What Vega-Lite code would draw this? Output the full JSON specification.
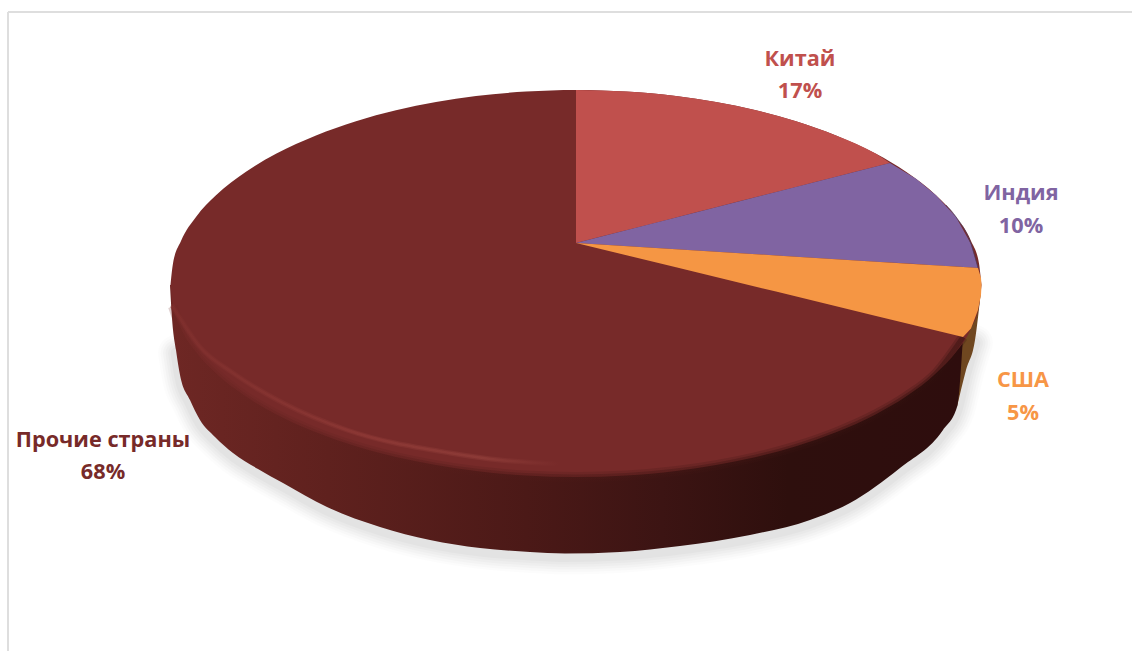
{
"$schema":"https://vega.github.io/schema/vega-lite/v6.json",
"width":1132,"height":651,"padding":0,"autosize":{"type":"none"},"background":"white",
"config":{"view":{"stroke":null}},
"datasets":{
"face":[{"x":-405.5,"y":-42,"y2":-42},{"x":-403,"y":-20.4,"y2":-63.3},{"x":-395,"y":2.1,"y2":-85.4},{"x":-380,"y":26.1,"y2":-109},{"x":-360,"y":47.7,"y2":-130.3},{"x":-330,"y":71.3,"y2":-153.6},{"x":-300,"y":89.2,"y2":-171.2},{"x":-260,"y":107.6,"y2":-189.3},{"x":-220,"y":121.8,"y2":-203.3},{"x":-180,"y":132.7,"y2":-214},{"x":-140,"y":140.9,"y2":-222.1},{"x":-100,"y":147,"y2":-228},{"x":-50,"y":151.4,"y2":-232.5},{"x":0,"y":153,"y2":-234},{"x":50,"y":151.4,"y2":-232.5},{"x":100,"y":147,"y2":-228},{"x":140,"y":140.9,"y2":-222.1},{"x":180,"y":132.7,"y2":-214},{"x":220,"y":121.8,"y2":-203.3},{"x":260,"y":107.6,"y2":-189.3},{"x":300,"y":89.2,"y2":-171.2},{"x":330,"y":71.3,"y2":-153.6},{"x":360,"y":47.7,"y2":-130.3},{"x":380,"y":26.1,"y2":-109},{"x":395,"y":2.1,"y2":-85.4},{"x":403,"y":-20.4,"y2":-63.3},{"x":405.5,"y":-42,"y2":-42}],
"red":[{"x":0,"y":153,"y2":0},{"x":50,"y":151.4,"y2":12.7},{"x":100,"y":147,"y2":25.5},{"x":140,"y":140.9,"y2":35.7},{"x":180,"y":132.7,"y2":45.9},{"x":220,"y":121.8,"y2":56},{"x":260,"y":107.6,"y2":66.2},{"x":300,"y":89.2,"y2":76.4},{"x":314,"y":80,"y2":80}],
"purple":[{"x":0,"y":0,"y2":0},{"x":100,"y":25.5,"y2":-6.2},{"x":200,"y":51,"y2":-12.4},{"x":300,"y":76.4,"y2":-18.7},{"x":314,"y":80,"y2":-19.5},{"x":340,"y":64.3,"y2":-21.1},{"x":360,"y":47.7,"y2":-22.4},{"x":380,"y":26.1,"y2":-23.6},{"x":395,"y":-1,"y2":-24.6},{"x":402,"y":-25,"y2":-25}],
"orange":[{"x":0,"y":0,"y2":0},{"x":100,"y":-6.2,"y2":-24.3},{"x":200,"y":-12.4,"y2":-48.6},{"x":300,"y":-18.7,"y2":-72.9},{"x":387,"y":-24,"y2":-94},{"x":395,"y":-24.6,"y2":-85.4},{"x":402,"y":-25,"y2":-67},{"x":405,"y":-35,"y2":-52},{"x":405.5,"y":-42,"y2":-42}],
"side":[{"x":-406,"y":-42,"y2":-42},{"x":-404,"y":-75,"y2":-42},{"x":-400,"y":-107,"y2":-42},{"x":-396,"y":-132,"y2":-42},{"x":-386,"y":-157,"y2":-42},{"x":-376,"y":-177,"y2":-42},{"x":-361,"y":-194,"y2":-42},{"x":-343,"y":-210,"y2":-42},{"x":-318,"y":-226,"y2":-42},{"x":-293,"y":-240,"y2":-42},{"x":-249,"y":-264,"y2":-42},{"x":-196,"y":-284,"y2":-42},{"x":-146,"y":-297,"y2":-42},{"x":-96,"y":-305,"y2":-42},{"x":-46,"y":-309,"y2":-42},{"x":-11,"y":-310.5,"y2":-42},{"x":44,"y":-309,"y2":-42},{"x":104,"y":-303,"y2":-42},{"x":174,"y":-292,"y2":-42},{"x":234,"y":-277,"y2":-42},{"x":274,"y":-260,"y2":-42},{"x":324,"y":-225,"y2":-42},{"x":367,"y":-187,"y2":-42},{"x":381,"y":-164,"y2":-42},{"x":387,"y":-94,"y2":-42}],
"orangeSide":[{"x":381,"y":-164,"y2":-42},{"x":390,"y":-127,"y2":-42},{"x":399,"y":-97,"y2":-42},{"x":405,"y":-47,"y2":-42}],
"outline":[{"x":-400,"y":-107},{"x":-396,"y":-132},{"x":-386,"y":-157},{"x":-376,"y":-177},{"x":-361,"y":-194},{"x":-343,"y":-210},{"x":-318,"y":-226},{"x":-293,"y":-240},{"x":-249,"y":-264},{"x":-196,"y":-284},{"x":-146,"y":-297},{"x":-96,"y":-305},{"x":-46,"y":-309},{"x":-11,"y":-310.5},{"x":44,"y":-309},{"x":104,"y":-303},{"x":174,"y":-292},{"x":234,"y":-277},{"x":274,"y":-260},{"x":324,"y":-225},{"x":367,"y":-187},{"x":381,"y":-164},{"x":390,"y":-127},{"x":399,"y":-97}],
"highlight":[{"x":-403,"y":-64},{"x":-376,"y":-104},{"x":-343,"y":-130},{"x":-293,"y":-160},{"x":-229,"y":-187},{"x":-126,"y":-210},{"x":-76,"y":-217},{"x":-16,"y":-221}],
"rim":[{"x":-403,"y":-63.3},{"x":-395,"y":-85.4},{"x":-380,"y":-109},{"x":-360,"y":-130.3},{"x":-330,"y":-153.6},{"x":-300,"y":-171.2},{"x":-260,"y":-189.3},{"x":-220,"y":-203.3},{"x":-180,"y":-214},{"x":-140,"y":-222.1},{"x":-100,"y":-228},{"x":-50,"y":-232.5},{"x":0,"y":-234},{"x":50,"y":-232.5},{"x":100,"y":-228},{"x":140,"y":-222.1},{"x":180,"y":-214},{"x":220,"y":-203.3},{"x":260,"y":-189.3},{"x":300,"y":-171.2},{"x":330,"y":-153.6},{"x":360,"y":-130.3},{"x":387,"y":-94}],
"purpleEdge":[{"x":370,"y":38},{"x":380,"y":26.1},{"x":395,"y":-1},{"x":402,"y":-25}],
"labels":[{"label":"Китай","share":17,"x":224,"y":184,"c":"#c0504d"},{"label":"17%","share":17,"x":224,"y":152,"c":"#c0504d"},{"label":"Индия","share":10,"x":445,"y":50,"c":"#8064a2"},{"label":"10%","share":10,"x":445,"y":17,"c":"#8064a2"},{"label":"США","share":5,"x":447,"y":-137,"c":"#f79646"},{"label":"5%","share":5,"x":447,"y":-170,"c":"#f79646"},{"label":"Прочие страны","share":68,"x":-473,"y":-197,"c":"#772a29"},{"label":"68%","share":68,"x":-473,"y":-229,"c":"#772a29"}],
"frameTop":[{"x":-568,"x2":556,"y":231}],
"frameLeft":[{"x":-568,"y":231,"y2":-408}]
},
"encoding":{
"x":{"field":"x","type":"quantitative","scale":{"domain":[-576,556],"nice":false,"zero":false},"axis":null},
"y":{"field":"y","type":"quantitative","scale":{"domain":[-408,243],"nice":false,"zero":false},"axis":null}
},
"layer":[
{"data":{"name":"frameTop"},"mark":{"type":"rule","color":"#dedede","strokeWidth":2},"encoding":{"x2":{"field":"x2"}}},
{"data":{"name":"frameLeft"},"mark":{"type":"rule","color":"#dedede","strokeWidth":2},"encoding":{"y2":{"field":"y2"}}},
{"data":{"name":"outline"},"mark":{"type":"line","interpolate":"monotone","color":"#000","opacity":0.012,"strokeWidth":36,"strokeCap":"round","yOffset":3},"encoding":{"order":{"field":"x"}}},
{"data":{"name":"outline"},"mark":{"type":"line","interpolate":"monotone","color":"#000","opacity":0.015,"strokeWidth":31,"strokeCap":"round","yOffset":3},"encoding":{"order":{"field":"x"}}},
{"data":{"name":"outline"},"mark":{"type":"line","interpolate":"monotone","color":"#000","opacity":0.018,"strokeWidth":26,"strokeCap":"round","yOffset":3},"encoding":{"order":{"field":"x"}}},
{"data":{"name":"outline"},"mark":{"type":"line","interpolate":"monotone","color":"#000","opacity":0.02,"strokeWidth":21,"strokeCap":"round","yOffset":3},"encoding":{"order":{"field":"x"}}},
{"data":{"name":"outline"},"mark":{"type":"line","interpolate":"monotone","color":"#000","opacity":0.02,"strokeWidth":16,"strokeCap":"round","yOffset":3},"encoding":{"order":{"field":"x"}}},
{"data":{"name":"outline"},"mark":{"type":"line","interpolate":"monotone","color":"#000","opacity":0.025,"strokeWidth":11,"strokeCap":"round","yOffset":3},"encoding":{"order":{"field":"x"}}},
{"data":{"name":"orangeSide"},"mark":{"type":"area","interpolate":"monotone","color":"#6f4720"},"encoding":{"y2":{"field":"y2"}}},
{"data":{"name":"side"},"mark":{"type":"area","interpolate":"monotone","color":{"gradient":"linear","x1":0,"x2":1,"y1":0,"y2":0,"stops":[{"offset":0,"color":"#6e2724"},{"offset":0.2,"color":"#5f211e"},{"offset":0.45,"color":"#4b1917"},{"offset":0.62,"color":"#3c1413"},{"offset":0.78,"color":"#2e0f0d"},{"offset":1,"color":"#2e0d0d"}]}},"encoding":{"y2":{"field":"y2"}}},
{"data":{"name":"face"},"mark":{"type":"area","interpolate":"monotone","color":"#772a29"},"encoding":{"y2":{"field":"y2"}}},
{"data":{"name":"rim"},"mark":{"type":"line","interpolate":"monotone","opacity":0.22,"strokeWidth":10,"stroke":{"gradient":"linear","x1":0,"x2":1,"y1":0,"y2":0,"stops":[{"offset":0,"color":"#6e2724"},{"offset":0.5,"color":"#4b1917"},{"offset":1,"color":"#2e0f0d"}]}},"encoding":{"order":{"field":"x"}}},
{"data":{"name":"rim"},"mark":{"type":"line","interpolate":"monotone","opacity":0.4,"strokeWidth":5,"stroke":{"gradient":"linear","x1":0,"x2":1,"y1":0,"y2":0,"stops":[{"offset":0,"color":"#6e2724"},{"offset":0.5,"color":"#4b1917"},{"offset":1,"color":"#2e0f0d"}]}},"encoding":{"order":{"field":"x"}}},
{"data":{"name":"highlight"},"mark":{"type":"line","interpolate":"monotone","strokeWidth":5,"opacity":0.45,"strokeCap":"round","stroke":{"gradient":"linear","x1":0,"x2":1,"y1":0,"y2":0,"stops":[{"offset":0,"color":"#7f2f2d"},{"offset":0.5,"color":"#8d3835"},{"offset":0.8,"color":"#8e3c38"},{"offset":1,"color":"#772a29"}]}},"encoding":{"order":{"field":"x"}}},
{"data":{"name":"highlight"},"mark":{"type":"line","interpolate":"monotone","strokeWidth":2.5,"opacity":0.8,"strokeCap":"round","stroke":{"gradient":"linear","x1":0,"x2":1,"y1":0,"y2":0,"stops":[{"offset":0,"color":"#7f2f2d"},{"offset":0.5,"color":"#8d3835"},{"offset":0.8,"color":"#8e3c38"},{"offset":1,"color":"#772a29"}]}},"encoding":{"order":{"field":"x"}}},
{"data":{"name":"red"},"mark":{"type":"area","interpolate":"monotone","color":"#c0504d"},"encoding":{"y2":{"field":"y2"}}},
{"data":{"name":"purple"},"mark":{"type":"area","interpolate":"linear","color":"#8064a2"},"encoding":{"y2":{"field":"y2"}}},
{"data":{"name":"orange"},"mark":{"type":"area","interpolate":"linear","color":"#f59644"},"encoding":{"y2":{"field":"y2"}}},
{"data":{"name":"purpleEdge"},"mark":{"type":"line","interpolate":"monotone","color":"#4a3a60","strokeWidth":1,"opacity":0.7},"encoding":{"order":{"field":"x"}}},
{"data":{"name":"labels"},"mark":{"type":"text","font":"Open Sans","fontWeight":"bold","fontSize":21.7,"align":"center","baseline":"middle"},"encoding":{"text":{"field":"label"},"color":{"field":"c","type":"nominal","scale":null}}}
]
}
